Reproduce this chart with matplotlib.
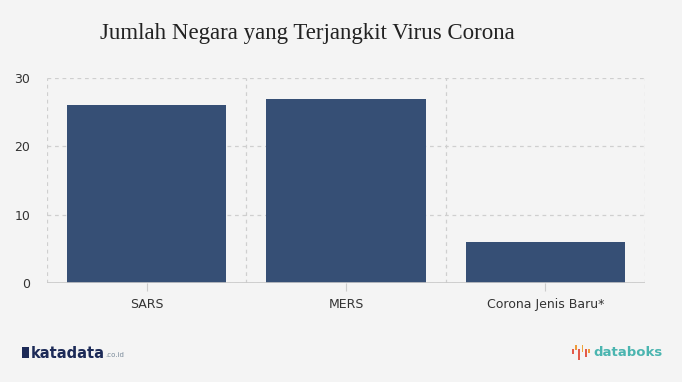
import matplotlib
matplotlib.use("Agg")
import matplotlib.pyplot as plt
from matplotlib.patches import Rectangle

categories = ["SARS", "MERS", "Corona Jenis Baru*"]
values = [26, 27, 6]
yticks = [0, 10, 20, 30]
title = "Jumlah Negara yang Terjangkit Virus Corona"

bg = "#f4f4f4"
bar_color = "#364f75"
grid_color = "#cfcfcf"

fig = plt.figure(figsize=(6.82, 3.82), dpi=100, facecolor=bg)
ax = fig.add_axes([47/682, 1-283/382, (645-47)/682, (283-78)/382], facecolor=bg)

x = list(range(len(categories)))
ax.bar(x, values, width=0.8, color=bar_color, zorder=3)

ax.set_xlim(-0.5, len(categories)-0.5)
ax.set_ylim(0, 30)
ax.set_yticks(yticks)
ax.set_xticks(x)
ax.set_xticklabels(categories)
ax.set_xticks([i-0.5 for i in range(len(categories)+1)], minor=True)

for s in ax.spines.values():
    s.set_visible(False)
ax.grid(axis="y", which="major", color=grid_color, linestyle=(0, (3, 3)), linewidth=0.9, zorder=0)
ax.grid(axis="x", which="minor", color=grid_color, linestyle=(0, (3, 3)), linewidth=0.9, zorder=0)
ax.axhline(0, color="#c8c8c8", linewidth=1.2, zorder=4)

ax.tick_params(axis="y", length=0, pad=12, labelsize=9, labelcolor="#333333")
ax.tick_params(axis="x", which="major", length=6, color="#cccccc", pad=5, labelsize=9, labelcolor="#333333")
ax.tick_params(axis="x", which="minor", length=0)
for lbl in ax.get_yticklabels() + ax.get_xticklabels():
    lbl.set_fontfamily("DejaVu Sans")

fig.text(100/682, 1-33/382, title, fontsize=16.5, family="Liberation Serif",
         color="#222222", va="center", ha="left")

# katadata logo
fig.patches.append(Rectangle((22/682, 1-358/382), 7/682, 11/382, transform=fig.transFigure,
                             facecolor="#1c2a57", edgecolor="none"))
fig.text(31/682, 1-353/382, "katadata", fontsize=10.5, color="#1c2a57", fontweight="bold",
         va="center", ha="left", family="DejaVu Sans")
fig.text(105/682, 1-355/382, ".co.id", fontsize=5, color="#7a8a9a", va="center", ha="left")

# databoks logo
bar_spec = [(349, 354, "#e35a4a"), (345, 350, "#ee9a3a"), (349, 360, "#e35a4a"),
            (345, 352, "#eea43a"), (349, 357, "#e35a4a"), (349, 353, "#ee9a3a")]
for i, (top, bot, c) in enumerate(bar_spec):
    fig.patches.append(Rectangle(((572 + i*3.2)/682, 1-bot/382), 1.8/682, (bot-top)/382,
                                 transform=fig.transFigure, facecolor=c, edgecolor="none"))
fig.text(593/682, 1-353/382, "databoks", fontsize=9.5, color="#4bb5b0", fontweight="bold",
         va="center", ha="left", family="DejaVu Sans")

fig.savefig("out.png", dpi=100, facecolor=bg)
